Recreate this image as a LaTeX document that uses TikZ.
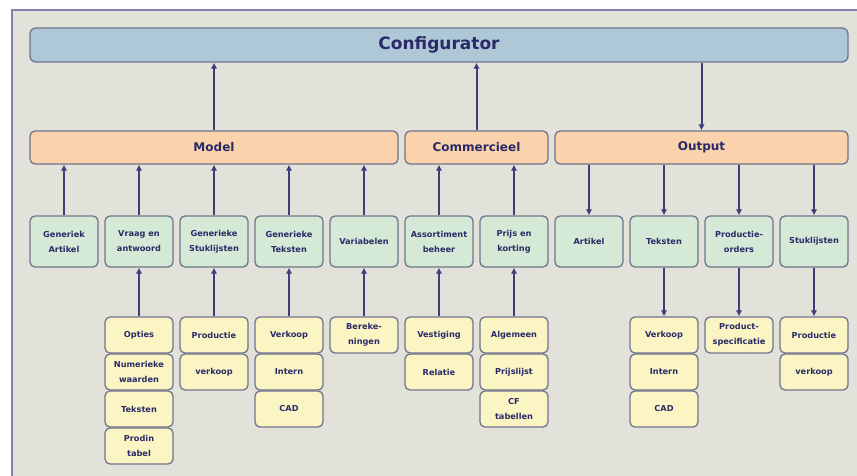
\documentclass[tikz,border=0pt]{standalone}
\usepackage{fontspec}
\setmainfont{DejaVu Sans}
\usetikzlibrary{arrows.meta}
\definecolor{frameline}{RGB}{128,128,168}
\definecolor{panel}{RGB}{226,226,218}
\definecolor{topfill}{RGB}{174,200,216}
\definecolor{groupfill}{RGB}{250,210,172}
\definecolor{itemfill}{RGB}{212,234,214}
\definecolor{subfill}{RGB}{250,245,194}
\definecolor{boxline}{RGB}{112,116,140}
\definecolor{ink}{RGB}{42,42,104}
\definecolor{wire}{RGB}{62,62,120}
\begin{document}
\begin{tikzpicture}[x=1pt,y=-1pt,
  box/.style={draw=boxline, line width=1.3pt, rounded corners=5pt, inner sep=0pt,
    text=ink, align=center, font=\bfseries\fontsize{8.2}{15}\selectfont},
  item/.style={box, fill=itemfill, minimum width=68pt, minimum height=51pt},
  sub/.style={box, fill=subfill, minimum width=68pt, minimum height=36pt},
  group/.style={box, fill=groupfill, minimum height=33pt, font=\bfseries\fontsize{12}{14}\selectfont},
  link/.style={draw=wire, line width=2pt, -{Latex[length=6pt,width=6.5pt]}}
]
\useasboundingbox (0,0) rectangle (857,475);
% page and framed panel, running on past the right and bottom edges
\fill[white] (0,0) rectangle (857,475);
\fill[panel] (12,10) rectangle (880,500);
\draw[frameline, line width=2pt] (12,500) -- (12,10) -- (880,10);

% top level
\node[box, fill=topfill, minimum width=818pt, minimum height=34pt, rounded corners=6pt,
  font=\bfseries\fontsize{17}{18}\selectfont] (config) at (439,45) {Configurator};

% groups
\node[group, minimum width=368pt] (model) at (214,147.5) {Model};
\node[group, minimum width=143pt] (comm) at (476.5,147.5) {Commercieel};
\node[group, minimum width=293pt] (out) at (701.5,147.5) {Output};

% second level
\node[item] (ga) at (64,241.5) {Generiek\\Artikel};
\node[item] (va) at (139,241.5) {Vraag en\\antwoord};
\node[item] (gs) at (214,241.5) {Generieke\\Stuklijsten};
\node[item] (gt) at (289,241.5) {Generieke\\Teksten};
\node[item] (vr) at (364,241.5) {Variabelen};
\node[item] (ab) at (439,241.5) {Assortiment\\beheer};
\node[item] (pk) at (514,241.5) {Prijs en\\korting};
\node[item] (ar) at (589,241.5) {Artikel};
\node[item] (tk) at (664,241.5) {Teksten};
\node[item] (po) at (739,241.5) {Productie-\\orders};
\node[item] (sl) at (814,241.5) {Stuklijsten};

% third level
\node[sub] (va1) at (139,335) {Opties};
\node[sub] (va2) at (139,372) {Numerieke\\waarden};
\node[sub] (va3) at (139,409) {Teksten};
\node[sub] (va4) at (139,446) {Prodin\\tabel};
\node[sub] (gs1) at (214,335) {Productie};
\node[sub] (gs2) at (214,372) {verkoop};
\node[sub] (gt1) at (289,335) {Verkoop};
\node[sub] (gt2) at (289,372) {Intern};
\node[sub] (gt3) at (289,409) {CAD};
\node[sub] (vr1) at (364,335) {Bereke-\\ningen};
\node[sub] (ab1) at (439,335) {Vestiging};
\node[sub] (ab2) at (439,372) {Relatie};
\node[sub] (pk1) at (514,335) {Algemeen};
\node[sub] (pk2) at (514,372) {Prijslijst};
\node[sub] (pk3) at (514,409) {CF\\tabellen};
\node[sub] (tk1) at (664,335) {Verkoop};
\node[sub] (tk2) at (664,372) {Intern};
\node[sub] (tk3) at (664,409) {CAD};
\node[sub] (po1) at (739,335) {Product-\\specificatie};
\node[sub] (sl1) at (814,335) {Productie};
\node[sub] (sl2) at (814,372) {verkoop};

% connectors between groups and the configurator
\draw[link] (model.north) -- (model.north |- config.south);
\draw[link] (comm.north) -- (comm.north |- config.south);
\draw[link] (config.south -| out.north) -- (out.north);

% inputs feeding the groups
\foreach \n/\g in {ga/model, va/model, gs/model, gt/model, vr/model, ab/comm, pk/comm}
  \draw[link] (\n.north) -- (\n.north |- \g.south);
\foreach \n in {ar, tk, po, sl}
  \draw[link] (\n.north |- out.south) -- (\n.north);

% detail stacks
\foreach \n in {va, gs, gt, vr, ab, pk}
  \draw[link] (\n1.north) -- (\n.south);
\foreach \n in {tk, po, sl}
  \draw[link] (\n.south) -- (\n1.north);
\end{tikzpicture}
\end{document}
